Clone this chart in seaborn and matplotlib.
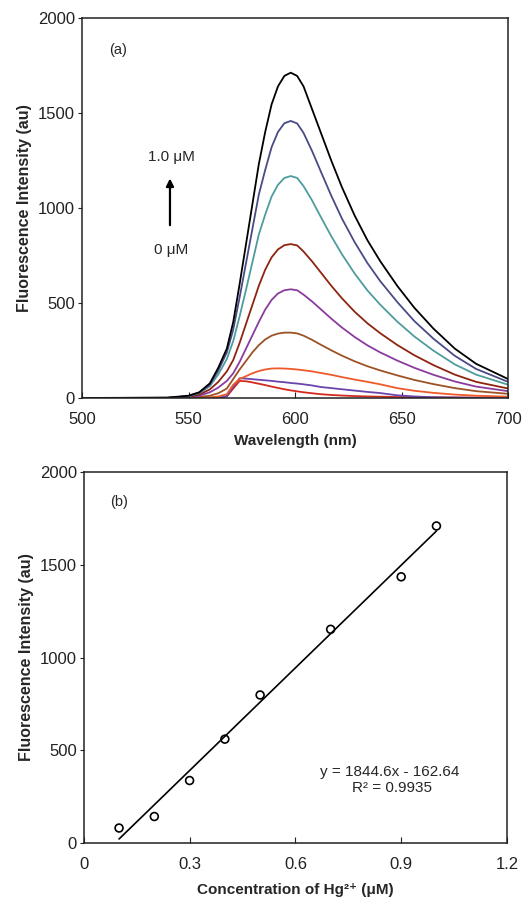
import numpy as np
import pandas as pd
import matplotlib
matplotlib.use("Agg")
import matplotlib.pyplot as plt
import seaborn as sns

# Datos
wavelength = [500, 540, 550, 555, 560, 564, 568, 571, 574, 577, 580, 583, 586, 589, 592,
              595, 598, 601, 604, 608, 612, 617, 622, 628, 634, 640, 648, 656, 665, 675,
              685, 700]

i_1_0 = [0, 2, 12, 30, 77, 160, 260, 400, 600, 810, 1020, 1230, 1400, 1545, 1640,
         1695, 1712, 1695, 1640, 1520, 1400, 1250, 1110, 960, 830, 720, 590, 475, 365, 260,
         180, 100]
i_0_9 = [0, 1, 10, 27, 70, 145, 240, 360, 530, 710, 890, 1070, 1200, 1320, 1400,
         1446, 1458, 1445, 1395, 1300, 1195, 1065, 945, 820, 710, 615, 505, 405, 312, 222,
         153, 85]
i_0_7 = [0, 1, 9, 25, 62, 125, 205, 300, 430, 570, 715, 860, 965, 1060, 1122,
         1158, 1168, 1158, 1115, 1040, 955, 852, 757, 655, 566, 491, 402, 324, 249, 177,
         123, 70]
i_0_5 = [0, 0, 6, 18, 45, 85, 140, 200, 290, 390, 490, 590, 675, 740, 782,
         804, 810, 803, 771, 719, 662, 591, 525, 454, 393, 341, 279, 225, 173, 123,
         85, 50]
i_0_4 = [0, 0, 4, 12, 30, 55, 90, 130, 190, 260, 330, 400, 465, 516, 550,
         567, 572, 567, 544, 508, 468, 418, 371, 321, 277, 240, 197, 159, 122, 87,
         60, 36]
i_0_3 = [0, 0, 2, 5, 12, 25, 50, 100, 150, 195, 240, 278, 308, 328, 339,
         344, 344, 340, 328, 306, 281, 251, 223, 193, 167, 145, 119, 95, 73, 52,
         36, 22]
i_0_2 = [0, 0, 0, 1, 3, 8, 20, 70, 100, 115, 130, 142, 150, 155, 156,
         155, 153, 150, 146, 140, 132, 122, 110, 97, 85, 72, 52, 38, 27, 18,
         12, 7]
i_0_1 = [0, 0, 0, 0, 1, 3, 10, 60, 104, 102, 99, 96, 93, 90, 86,
         83, 79, 76, 72, 66, 58, 52, 46, 39, 32, 26, 14, 8, 4, 2,
         1, 1]
i_0_0 = [0, 0, 0, 0, 1, 2, 8, 50, 90, 88, 82, 75, 68, 60, 53,
         46, 40, 35, 30, 25, 20, 16, 13, 10, 8, 7, 5, 4, 3, 3,
         2, 2]

conc_labels = ["1.0", "0.9", "0.7", "0.5", "0.4", "0.3", "0.2", "0.1", "0"]
spectra = [i_1_0, i_0_9, i_0_7, i_0_5, i_0_4, i_0_3, i_0_2, i_0_1, i_0_0]
colores = ["#000000", "#4a4a86", "#4f9c9c", "#8e2410", "#8a3c9e",
           "#9c5224", "#ee5a2a", "#6a44ae", "#d42a1e"]

# Panel (b)
conc = [0.1, 0.2, 0.3, 0.4, 0.5, 0.7, 0.9, 1.0]
intensidad = [81, 143, 337, 560, 798, 1152, 1435, 1709]
pendiente = 1844.6
intercepto = -162.64
r2 = 0.9935

sns.set_style("ticks")
plt.rcParams["font.family"] = ["Liberation Sans", "DejaVu Sans"]
plt.rcParams["axes.linewidth"] = 1.1
plt.rcParams["axes.edgecolor"] = "#222222"

fig = plt.figure(figsize=(5.27, 8.98), dpi=100)
ax1 = fig.add_axes([0.1556, 0.5568, 0.8084, 0.4232])
ax2 = fig.add_axes([0.159, 0.0612, 0.803, 0.4132])

# (a) espectros
df = pd.DataFrame({
    "wl": np.tile(wavelength, len(spectra)),
    "I": np.concatenate(spectra),
    "c": np.repeat(conc_labels, len(wavelength)),
})
# dibujar de abajo hacia arriba para que la negra quede encima
sns.lineplot(data=df, x="wl", y="I", hue="c", hue_order=conc_labels[::-1],
             palette=colores[::-1], estimator=None, sort=False, linewidth=1.3,
             legend=False, ax=ax1)

ax1.set_xlim(500, 700)
ax1.set_ylim(0, 2000)
ax1.set_xticks([500, 550, 600, 650, 700])
ax1.set_yticks([0, 500, 1000, 1500, 2000])
ax1.tick_params(axis="x", direction="in", length=4, labelsize=12, pad=10, colors="#222222")
ax1.tick_params(axis="y", direction="out", length=3, labelsize=12, pad=2, colors="#222222")
ax1.set_xlabel("Wavelength (nm)", fontsize=11, fontweight="bold", labelpad=5)
ax1.set_ylabel("Fluorescence Intensity (au)", fontsize=11.5, fontweight="bold", labelpad=4)
for s in ax1.spines.values():
    s.set_visible(True)

ax1.text(517, 1830, "(a)", fontsize=10.5, ha="center", va="center")
ax1.text(542, 1268, "1.0 μM", fontsize=11, ha="center", va="center")
ax1.text(542, 779, "0 μM", fontsize=11, ha="center", va="center")
ax1.annotate("", xy=(541.3, 1170), xytext=(541.3, 895),
             arrowprops=dict(arrowstyle="-|>", color="black", lw=1.6,
                             mutation_scale=11))

# (b) calibracion
sns.scatterplot(x=conc, y=intensidad, marker="o", s=32, facecolor="none",
                edgecolor="black", linewidth=1.2, ax=ax2)
x_fit = np.array([min(conc), max(conc)])
sns.lineplot(x=x_fit, y=pendiente * x_fit + intercepto, color="black",
             linewidth=1.2, ax=ax2)

ax2.set_xlim(0, 1.2)
ax2.set_ylim(0, 2000)
ax2.set_xticks([0, 0.3, 0.6, 0.9, 1.2])
ax2.set_xticklabels(["0", "0.3", "0.6", "0.9", "1.2"])
ax2.set_yticks([0, 500, 1000, 1500, 2000])
ax2.tick_params(axis="x", direction="in", length=4, labelsize=12, pad=10, colors="#222222")
ax2.tick_params(axis="y", direction="out", length=3, labelsize=12, pad=2, colors="#222222")
ax2.set_xlabel("Concentration of Hg²⁺ (μM)", fontsize=11, fontweight="bold", labelpad=8)
ax2.set_ylabel("Fluorescence Intensity (au)", fontsize=11.5, fontweight="bold", labelpad=4)
for s in ax2.spines.values():
    s.set_visible(True)

ax2.text(0.099, 1838, "(b)", fontsize=10.5, ha="center", va="center")
ax2.text(0.868, 384, f"y = {pendiente}x - {abs(intercepto)}", fontsize=11,
         ha="center", va="center")
ax2.text(0.873, 294, f"R² = {r2}", fontsize=11, ha="center", va="center")

fig.savefig("out.png", dpi=100)
plt.close(fig)
